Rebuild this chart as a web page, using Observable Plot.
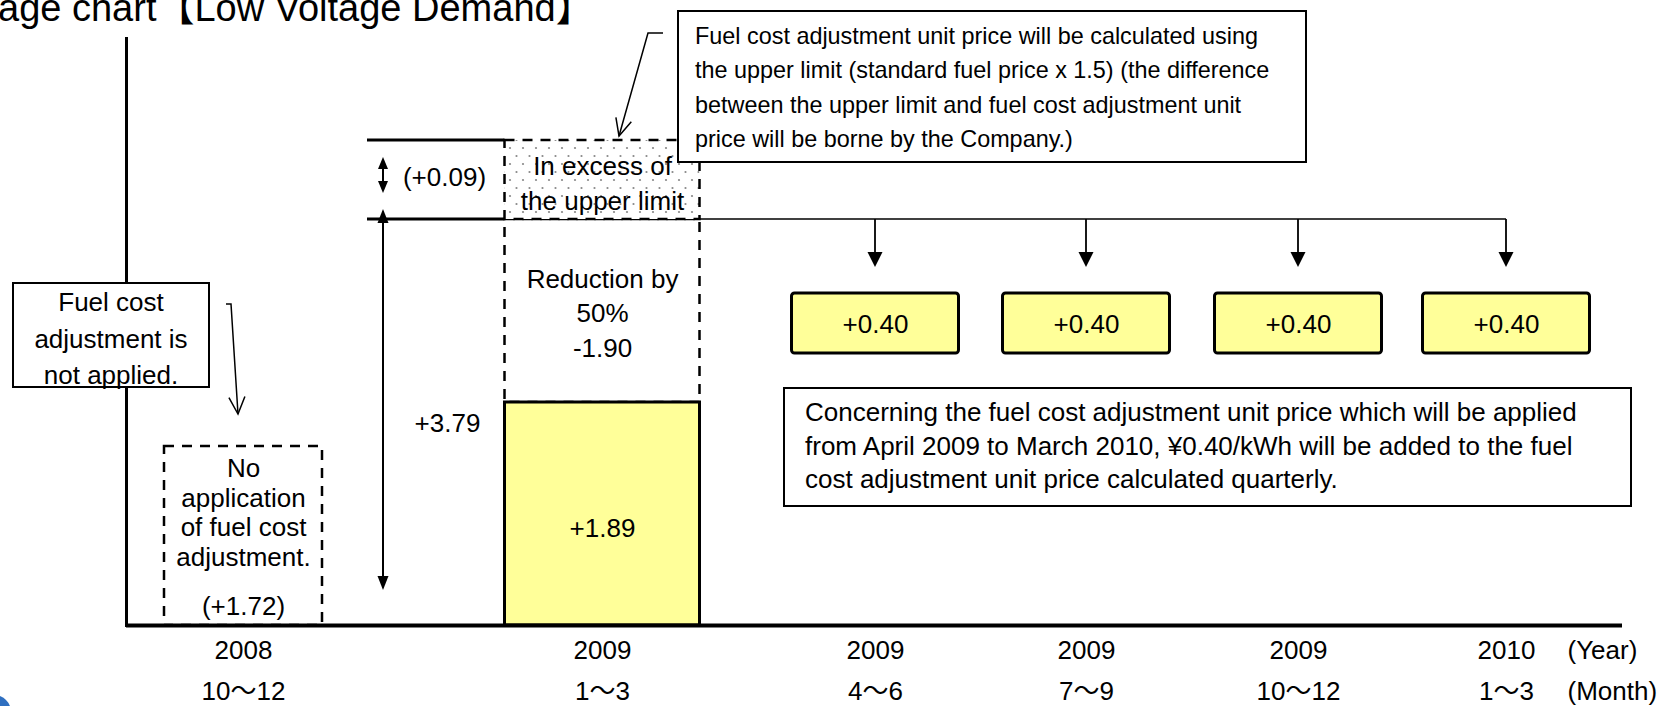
<!DOCTYPE html>
<html>
<head>
<meta charset="utf-8">
<script src="https://cdn.jsdelivr.net/npm/d3@7"></script>
<script src="https://cdn.jsdelivr.net/npm/@observablehq/plot@0.6"></script>
<style>
  html, body { margin: 0; padding: 0; background: #fff; overflow: hidden; }
  #chart svg { display: block; }
</style>
</head>
<body>
<div id="chart"></div>
<script>
// ---------------- data ----------------
const years  = ["2008", "2009", "2009", "2009", "2009", "2010"];
const months = ["10～12", "1～3", "4～6", "7～9", "10～12", "1～3"];
const notApplied = 1.72;   // Oct–Dec 2008: no application of fuel cost adjustment
const applied    = 1.89;   // Jan–Mar 2009: applied amount
const reduction  = -1.90;  // reduction by 50%
const fullAmount = 3.79;   // amount up to the upper limit
const excess     = 0.09;   // in excess of the upper limit
const added      = [0.40, 0.40, 0.40, 0.40]; // Apr 2009 – Mar 2010 (quarters 3..6)
const yearTitle  = "(Year)";
const monthTitle = "(Month)";
const titleText  = "age chart【Low Voltage Demand】";
const topNote  = ["Fuel cost adjustment unit price will be calculated using",
                  "the upper limit (standard fuel price x 1.5) (the difference",
                  "between the upper limit and fuel cost adjustment unit",
                  "price will be borne by the Company.)"];
const leftNote = ["Fuel cost", "adjustment is", "not applied."];
const midNote  = ["Concerning the fuel cost adjustment unit price which will be applied",
                  "from April 2009 to March 2010, ¥0.40/kWh will be added to the fuel",
                  "cost adjustment unit price calculated quarterly."];

// ---------------- helpers ----------------
const fmt = v => (v > 0 ? "+" : "") + v.toFixed(2);
const FONT = '"Liberation Sans", Arial, "Noto Sans CJK JP", sans-serif';
const YELLOW = "#FFFF99";
const quarters = years.map((y, i) => i);
const last = quarters.length - 1;
const addedRows = added.map((v, k) => ({q: k + 2, v}));

const plot = Plot.plot({
  width: 1660, height: 706,
  marginLeft: 126, marginRight: 38, marginTop: 38, marginBottom: 81,
  style: {fontFamily: FONT, color: "#000", background: "#fff", overflow: "visible"},
  x: {type: "linear", domain: quarters, range: [243, 602, 875, 1086, 1298, 1506], axis: null},
  y: {type: "linear", domain: [0, notApplied, applied, fullAmount, fullAmount + excess],
      range: [625, 446, 402, 219, 140], axis: null},
  marks: [
    // 2008 Oct–Dec: dashed (not applied)
    Plot.rect([notApplied], {x1: 0, x2: 0, y1: 0, y2: d => d, insetLeft: -79, insetRight: -79,
      fill: "none", stroke: "#000", strokeWidth: 2.5, strokeDasharray: "10,8"}),
    // 2009 Jan–Mar: reduction (dashed)
    Plot.rect([reduction], {x1: 1, x2: 1, y1: applied, y2: d => applied - d, insetLeft: -97.5, insetRight: -97.5,
      fill: "none", stroke: "#000", strokeWidth: 2.5, strokeDasharray: "10,8"}),
    // excess of upper limit (dotted)
    Plot.rect([excess], {x1: 1, x2: 1, y1: fullAmount, y2: d => fullAmount + d, insetLeft: -97.5, insetRight: -97.5,
      fill: "url(#dots)", stroke: "#000", strokeWidth: 2.5, strokeDasharray: "10,8"}),
    // applied bar
    Plot.rect([applied], {x1: 1, x2: 1, y1: 0, y2: d => d, insetLeft: -97.5, insetRight: -97.5,
      fill: YELLOW, stroke: "#000", strokeWidth: 3}),
    // +0.40 boxes
    Plot.rect(addedRows, {x1: "q", x2: "q", y1: fullAmount, y2: fullAmount,
      insetTop: 74, insetBottom: -134, insetLeft: -83.5, insetRight: -83.5,
      fill: YELLOW, stroke: "#000", strokeWidth: 3, rx: 3}),
    // axes
    Plot.frame({anchor: "left", strokeWidth: 3}),
    Plot.ruleY([0], {strokeWidth: 4}),
    // value texts
    Plot.text(addedRows, {x: "q", y: fullAmount, dy: 105, text: d => fmt(d.v), fontSize: 26}),
    Plot.text([applied], {x: 1, y: d => d / 2, dy: 1.5, text: d => fmt(d), fontSize: 26}),
    Plot.text([reduction], {x: 1, y: (applied + fullAmount) / 2, text: d => "Reduction by\n50%\n" + fmt(d),
      lineHeight: 1.33, fontSize: 26}),
    Plot.text([excess], {x: 1, y: fullAmount + excess / 2, dy: 1, text: () => "In excess of\nthe upper limit",
      lineHeight: 1.35, fontSize: 26}),
    Plot.text([fullAmount], {x: 1, dx: -155, y: applied, dy: 21, text: d => fmt(d), fontSize: 26}),
    Plot.text([excess], {x: 1, dx: -158, y: fullAmount + excess / 2, dy: -2.5, text: d => "(" + fmt(d) + ")", fontSize: 26}),
    Plot.text([notApplied], {x: 0, y: notApplied, dy: 65.5, text: () => "No\napplication\nof fuel cost\nadjustment.",
      lineHeight: 1.14, fontSize: 26}),
    Plot.text([notApplied], {x: 0, y: notApplied, dy: 160, text: d => "(" + fmt(d) + ")", fontSize: 26}),
    // category labels
    Plot.text(years, {x: (d, i) => i, y: 0, dy: 25, text: d => d, fontSize: 26}),
    Plot.text(months, {x: (d, i) => i, y: 0, dy: 66, text: d => d, fontSize: 26}),
    Plot.text([yearTitle], {x: last, y: 0, dx: 61, dy: 25, text: d => d, fontSize: 26, textAnchor: "start"}),
    Plot.text([monthTitle], {x: last, y: 0, dx: 61, dy: 66, text: d => d, fontSize: 26, textAnchor: "start"})
  ]
});
document.getElementById("chart").appendChild(plot);

// ---------------- annotations ----------------
const svg = d3.select(plot);
const xs = v => plot.scale("x").apply(v);
const ys = v => plot.scale("y").apply(v);

const defs = svg.insert("defs", ":first-child");
const pat = defs.append("pattern").attr("id", "dots").attr("patternUnits", "userSpaceOnUse")
  .attr("width", 13).attr("height", 16);
pat.append("rect").attr("width", 13).attr("height", 16).attr("fill", "#fff");
pat.append("circle").attr("cx", 3).attr("cy", 4).attr("r", 1.1).attr("fill", "#888");
pat.append("circle").attr("cx", 9.5).attr("cy", 12).attr("r", 1.1).attr("fill", "#888");

const g = svg.append("g").attr("font-family", FONT).attr("fill", "#000").attr("text-anchor", "start");
function line(pts, w) {
  g.append("path").attr("d", "M" + pts.map(p => p.join(",")).join("L"))
    .attr("fill", "none").attr("stroke", "#000").attr("stroke-width", w);
}
function head(tip, from, len, half, filled) {
  const dx = tip[0] - from[0], dy = tip[1] - from[1], L = Math.hypot(dx, dy);
  const ux = dx / L, uy = dy / L, px = -uy, py = ux;
  const bx = tip[0] - ux * len, by = tip[1] - uy * len;
  const a = [bx + px * half, by + py * half], b = [bx - px * half, by - py * half];
  if (filled) g.append("path").attr("d", `M${tip}L${a}L${b}Z`).attr("fill", "#000");
  else g.append("path").attr("d", `M${a}L${tip}L${b}`).attr("fill", "none").attr("stroke", "#000").attr("stroke-width", 1.5);
}

const c1 = xs(1), yTop = ys(fullAmount + excess), yFull = ys(fullAmount), y0 = ys(0);
// bracket lines
line([[c1 - 235, yTop], [c1 - 97.5, yTop]], 3);
line([[c1 - 235, yFull], [c1 - 97.5, yFull]], 3);
line([[c1 + 97.5, yFull], [xs(last), yFull]], 1.5);
// drop arrows to the +0.40 boxes
addedRows.forEach(d => {
  const x = xs(d.q);
  line([[x, yFull], [x, yFull + 35]], 1.8);
  head([x, yFull + 48], [x, yFull], 15, 7.5, true);
});
// double arrows
const ax = c1 - 219;
line([[ax, yTop + 20], [ax, yFull - 29]], 2);
head([ax, yTop + 17], [ax, yFull], 12, 5, true);
head([ax, yFull - 26], [ax, yTop], 12, 5, true);
line([[ax, yFull - 6], [ax, y0 - 38]], 2);
head([ax, yFull - 10], [ax, y0], 14, 5.5, true);
head([ax, y0 - 35], [ax, yFull], 14, 5.5, true);

// top callout
line([[663, 33], [648, 33], [619, 136]], 1.5);
head([619, 136], [648, 33], 17, 8, false);
g.append("rect").attr("x", 678).attr("y", 11).attr("width", 628).attr("height", 151)
  .attr("fill", "#fff").attr("stroke", "#000").attr("stroke-width", 2);
topNote.forEach((s, i) => g.append("text").attr("x", 695).attr("y", 44 + i * 34.3)
  .attr("font-size", 23.4).text(s));

// left callout
line([[226, 304], [231, 304], [238, 414]], 1.5);
head([238, 414], [231, 304], 17, 8, false);
g.append("rect").attr("x", 13).attr("y", 283).attr("width", 196).attr("height", 104)
  .attr("fill", "#fff").attr("stroke", "#000").attr("stroke-width", 2);
leftNote.forEach((s, i) => g.append("text").attr("x", 111).attr("y", 311 + i * 36.5)
  .attr("font-size", 26).attr("text-anchor", "middle").text(s));

// middle note
g.append("rect").attr("x", 784).attr("y", 388).attr("width", 847).attr("height", 118)
  .attr("fill", "#fff").attr("stroke", "#000").attr("stroke-width", 2);
midNote.forEach((s, i) => g.append("text").attr("x", 805).attr("y", 421 + i * 33.5)
  .attr("font-size", 26).text(s));

// title
g.append("text").attr("x", -2).attr("y", 21).attr("font-size", 38).text(titleText);

// logo fragment
g.append("circle").attr("cx", -6).attr("cy", 712).attr("r", 17).attr("fill", "#2f6fc0");
</script>
</body>
</html>
